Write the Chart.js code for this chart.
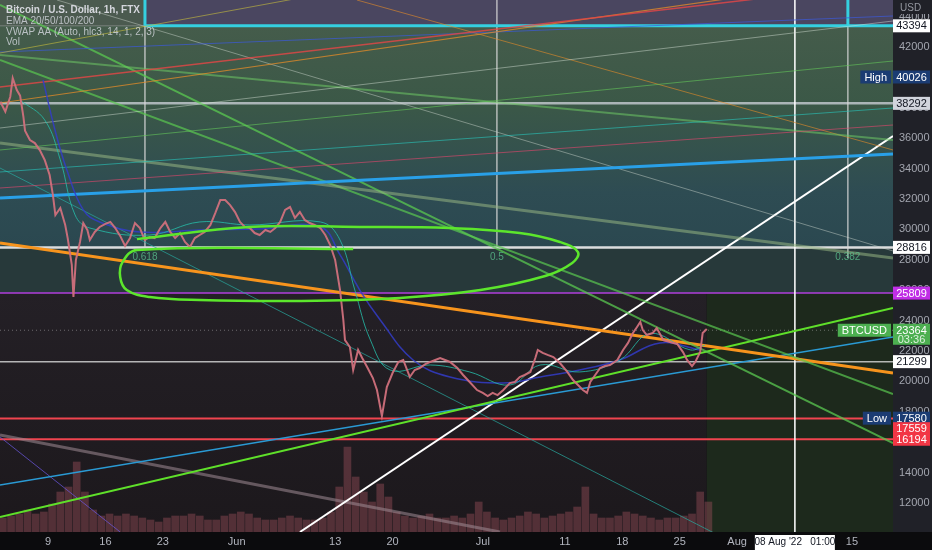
<!DOCTYPE html>
<html>
<head>
<meta charset="utf-8">
<script src="https://cdn.jsdelivr.net/npm/chart.js@4.4.0/dist/chart.umd.min.js"></script>
<style>
  html, body { margin: 0; background: #0b0b0d; }
  #wrap { width: 932px; height: 550px; }
</style>
</head>
<body>
<div id="wrap"><canvas id="chart" width="932" height="550"></canvas></div>
<script>
// x values are days counted so that May 9 = 9, Jun 1 = 32, Jul 1 = 62, Aug 1 = 93
const tickDays = [9, 16, 23, 32, 44, 51, 62, 72, 79, 86, 93, 107]
const tickLabels = ['9', '16', '23', 'Jun', '13', '20', 'Jul', '11', '18', '25', 'Aug', '15']
const priceTicks = [12000,14000,16000,18000,20000,22000,24000,26000,28000,30000,32000,34000,36000,38000,40000,42000,44000]

// BTCUSD 1h path
const priceDays = [3.2,3.8,4.4,4.7,5.2,5.6,6.0,6.2,6.8,7.4,8.0,8.6,9.2,9.6,9.9,10.5,11.1,11.4,11.9,12.1,
  12.4,12.9,13.3,13.8,14.1,14.7,15.3,16.0,16.6,17.2,17.8,18.4,19.0,19.6,20.2,20.8,21.4,22.0,22.7,23.3,
  23.9,24.5,25.1,25.7,26.3,26.9,27.5,28.1,28.8,29.4,30.0,30.6,31.2,31.8,32.4,33.0,33.6,34.2,34.8,35.5,
  36.1,36.7,37.3,37.9,38.5,39.1,39.7,40.3,40.9,41.5,42.2,42.8,43.4,44.0,44.6,45.0,45.2,45.8,46.2,46.8,
  47.3,47.9,48.6,49.1,49.7,50.3,51.0,51.7,52.3,53.1,53.7,54.3,55.0,55.6,56.2,56.8,57.4,58.0,58.9,59.6,
  60.4,61.3,62.0,62.6,63.2,63.8,64.5,65.3,65.9,66.5,67.1,67.8,68.4,68.7,69.3,69.9,70.6,71.4,72.3,73.0,
  73.6,74.2,74.7,75.1,75.7,76.3,76.9,77.5,78.4,79.1,79.7,80.3,80.8,81.2,81.5,82.0,82.7,83.2,83.6,84.0,
  84.8,85.7,86.4,86.9,87.5,87.9,88.5,88.8,89.3]
const priceClose = [38400,37750,38730,39950,39170,38800,37420,36500,35880,35680,35220,34570,33580,32260,30950,31410,30290,29430,27660,25550,
  27990,29170,30420,29960,29300,29830,30160,30360,30490,30090,29570,28910,29430,30420,30090,29300,29500,29430,30090,30490,
  29830,29430,29760,29170,28840,29430,29630,29830,30290,31080,31930,31930,31600,31140,30490,30160,30090,29760,29630,29960,
  29830,30090,30490,31280,31470,30750,31140,30620,30420,30290,30090,29630,28970,27990,26010,24040,22720,22260,20750,22070,
  21540,20950,20220,19430,17720,19630,20550,21280,21410,20290,20750,20880,21140,21280,21410,21540,21410,21280,20880,20420,
  19960,19430,19240,19040,19240,19100,19430,19890,19960,20290,20420,20620,21540,22070,21870,21740,21600,21210,20620,20090,
  19760,19430,19240,19960,20420,20880,21010,21080,21410,22070,22530,23180,23580,23910,23380,23050,23180,23510,23120,22720,
  22590,22460,21930,21410,21010,21280,21930,23180,23450]

// EMA lines (read, not computed)
const emaSlowDays = [8.4,9.85,11.3,13.3,15.3,20.2,27.5,34.8,42.2,44.6,47.0,49.5,53.5,58.0,64.5,69.0,73.8,78.7,83.6,88.5]
const emaSlow = [39830,36540,33910,31280,30490,29830,29960,30030,30160,28320,26010,24040,21410,20290,19900,20290,20750,21410,22530,22070]
const emaMidDays = [5.6,8.6,10.5,12.3,14.1,21.4,27.5,33.6,42.2,44.6,46.4,48.3,50.7,55.6,60.4,65.3,69.0,73.8,78.7,82.4,87.3,89.1]
const emaMid = [38510,37200,34570,30950,30090,29630,30490,30290,30490,29300,26010,22720,20750,21080,20620,19760,21080,20620,21410,23150,22070,22400]

// volume per day (thousands, read by eye)
const volDays = [3.5,4.5,5.5,6.5,7.5,8.5,9.5,10.5,11.5,12.5,13.5,14.5,15.5,16.5,17.5,18.5,19.5,20.5,21.5,22.5,
  23.5,24.5,25.5,26.5,27.5,28.5,29.5,30.5,31.5,32.5,33.5,34.5,35.5,36.5,37.5,38.5,39.5,40.5,41.5,42.5,
  43.5,44.5,45.5,46.5,47.5,48.5,49.5,50.5,51.5,52.5,53.5,54.5,55.5,56.5,57.5,58.5,59.5,60.5,61.5,62.5,
  63.5,64.5,65.5,66.5,67.5,68.5,69.5,70.5,71.5,72.5,73.5,74.5,75.5,76.5,77.5,78.5,79.5,80.5,81.5,82.5,
  83.5,84.5,85.5,86.5,87.5,88.5,89.5]
const volume = [14,16,18,22,18,20,28,40,45,70,40,22,16,18,16,18,16,14,12,10,
  14,16,16,18,16,12,12,16,18,20,18,14,12,12,14,16,14,12,12,14,
  20,45,85,55,40,30,48,35,20,16,14,16,18,14,14,16,14,18,30,20,
  14,12,14,16,20,18,14,16,18,20,25,45,18,14,14,16,20,18,16,14,
  12,14,14,16,18,40,30]

// horizontal levels
const levelPrices = [43394, 38292, 28816, 25809, 21299, 17559, 16194]
const lastPrice = 23364

// drawn trend lines [day1, price1, day2, price2]
const trendCoords = [
  [3.15, 39368, 112, 46210],
  [3.15, 38316, 112, 46737],
  [3.15, 41605, 112, 52395],
  [3.15, 41671, 112, 44039],
  [3.15, 36671, 112, 43710],
  [3.15, 35224, 112, 41079],
  [3.15, 33776, 112, 37987],
  [3.15, 32724, 112, 36868],
  [3.15, 32066, 112, 34960],
  [3.15, 41474, 112, 35881],
  [3.15, 35684, 112, 28118],
  [3.15, 44763, 112, 15947],
  [3.15, 41145, 112, 19171],
  [10.1, 45092, 112, 28579],
  [46.66, 45092, 112, 35224],
  [3.15, 29105, 112, 20552],
  [3.15, 11079, 112, 24829],
  [3.15, 13184, 112, 22921],
  [39.71, 10091, 112, 36145],
  [3.15, 34039, 90.9, 9829],
  [3.15, 16473, 64.1, 10091],
  [3.15, 16342, 17.8, 10091],
  // fib box + verticals
  [20.82, 43394, 112, 43394],
  [20.82, 43394, 20.82, 46000],
  [106.5, 43394, 106.5, 46000],
  [20.82, 43394, 20.82, 28816],
  [63.72, 46000, 63.72, 28816],
  [106.5, 43394, 106.5, 28118],
  [100.04, 46000, 100.04, 9000]
]
const trendStyle = [
  ['rgba(230,70,70,0.8)', 1.5],
  ['rgba(230,140,40,0.75)', 1.2],
  ['rgba(200,190,60,0.6)', 1],
  ['rgba(60,90,220,0.7)', 1.2],
  ['rgba(220,230,220,0.45)', 1.2],
  ['rgba(100,200,90,0.6)', 1.2],
  ['rgba(40,200,190,0.6)', 1.2],
  ['rgba(230,70,110,0.6)', 1.2],
  ['#29a0e8', 3],
  ['rgba(110,200,100,0.55)', 2],
  ['rgba(150,180,130,0.55)', 3],
  ['rgba(90,200,80,0.75)', 2],
  ['rgba(90,200,80,0.7)', 2],
  ['rgba(210,220,210,0.45)', 1],
  ['rgba(230,140,40,0.6)', 1],
  ['#f7941d', 3],
  ['#5fe02a', 2],
  ['#2a9ad4', 1.6],
  ['#ffffff', 2],
  ['rgba(40,170,160,0.7)', 1],
  ['rgba(160,140,150,0.55)', 3],
  ['rgba(110,90,230,0.7)', 1],
  ['#35d0e0', 3],
  ['#35d0e0', 3],
  ['#35d0e0', 3],
  ['rgba(220,220,220,0.5)', 1],
  ['rgba(220,220,220,0.5)', 1],
  ['rgba(220,220,220,0.5)', 1],
  ['rgba(255,255,255,0.8)', 1]
]
const levelStyle = [
  ['rgba(200,200,200,0.45)', 1],
  ['rgba(210,212,220,0.75)', 2.5],
  ['rgba(240,240,240,0.9)', 2.5],
  ['#b23fdc', 1.5],
  ['rgba(220,220,220,0.8)', 1.5],
  ['#f0444f', 2],
  ['#f0444f', 2]
]

// hand drawn ellipse
const loopDays = [46.2, 19.85, 18.1, 17.8, 18.6, 21.4, 27.5, 39.7, 51.9, 61.7, 69.6, 72.9, 73.6, 71.4, 66.5, 58.0, 47.0, 33.6, 19.85]
const loopPrices = [28710, 28650, 27860, 26870, 26010, 25550, 25350, 25290, 25490, 26010, 26930, 27790, 28510, 29170, 29760, 30090, 30160, 30160, 29360]

// fib labels
const fibDays = [20.82, 63.72, 106.5]
const fibPrice = 28184
const fibText = ['0.618', '0.5', '0.382']

// axis tags
const tagPrices = [43394, 40026, 38292, 28816, 25809, 23364, 21299, 17580, 17559, 16194]
const tagColors = [['#ffffff','#131722'],['#1b3c73','#ffffff'],['#d1d4dc','#131722'],['#ffffff','#131722'],['#c02ee6','#ffffff'],
  ['#4caf50','#ffffff'],['#ffffff','#131722'],['#1b3c73','#ffffff'],['#f23645','#ffffff'],['#f23645','#ffffff']]
const tagSide = {40026: 'High', 23364: 'BTCUSD', 17580: 'Low'}

const FONT = "'Liberation Sans', 'DejaVu Sans', sans-serif"
const pts = (xs, ys) => xs.map((v, i) => ({x: v, y: ys[i]}))

const datasets = []
datasets.push({data: pts(priceDays, priceClose), borderColor: 'rgba(208,112,124,0.95)', borderWidth: 2, order: 5})
datasets.push({data: pts(emaMidDays, emaMid), borderColor: 'rgba(38,190,170,0.8)', borderWidth: 1, tension: 0.4, order: 6})
datasets.push({data: pts(emaSlowDays, emaSlow), borderColor: 'rgba(50,60,200,0.85)', borderWidth: 1.5, tension: 0.4, order: 6})
datasets.push({data: pts(loopDays, loopPrices), borderColor: '#5ce62c', borderWidth: 2.5, tension: 0.4, order: 4})
trendCoords.forEach((t, i) => {
  datasets.push({data: [{x: t[0], y: t[1]}, {x: t[2], y: t[3]}], borderColor: trendStyle[i][0], borderWidth: trendStyle[i][1], order: 8})
})
levelPrices.forEach((p, i) => {
  datasets.push({data: [{x: 3.15, y: p}, {x: 112, y: p}], borderColor: levelStyle[i][0], borderWidth: levelStyle[i][1], order: 9})
})
datasets.push({data: [{x: 3.15, y: lastPrice}, {x: 112, y: lastPrice}], borderColor: 'rgba(200,200,200,0.45)', borderWidth: 1, borderDash: [1, 3], order: 9})
datasets.push({type: 'bar', data: pts(volDays, volume), yAxisID: 'yVol', backgroundColor: 'rgba(150,78,88,0.45)', barThickness: 7, order: 20})

const noPad = s => { s.paddingTop = 0; s.paddingBottom = 0; s.paddingLeft = 0; s.paddingRight = 0 }

const bgPlugin = {
  id: 'bg',
  beforeDraw(chart) {
    const {ctx, chartArea: a, scales: {x, y}} = chart
    const py = v => y.getPixelForValue(v)
    const px = v => x.getPixelForValue(v)
    ctx.save()
    ctx.fillStyle = '#0b0b0d'
    ctx.fillRect(0, 0, chart.width, chart.height)
    ctx.fillStyle = '#202128'
    ctx.fillRect(a.right, 0, chart.width - a.right, a.bottom)
    const yTop = py(43394), yMid = py(28816), yLow = py(25809)
    const xBox = px(20.82), xLast = px(89.3)
    ctx.fillStyle = '#4b5a4f'
    ctx.fillRect(a.left, a.top, xBox - a.left, yTop - a.top)
    ctx.fillStyle = '#4a4660'
    ctx.fillRect(xBox, a.top, a.right - xBox, yTop - a.top)
    let g = ctx.createLinearGradient(0, yTop, 0, yMid)
    g.addColorStop(0, '#455c4b')
    g.addColorStop(0.35, '#3b5847')
    g.addColorStop(0.75, '#2e4c53')
    g.addColorStop(1, '#2b4850')
    ctx.fillStyle = g
    ctx.fillRect(a.left, yTop, a.right - a.left, yMid - yTop)
    ctx.fillStyle = '#27393a'
    ctx.fillRect(a.left, yMid, a.right - a.left, yLow - yMid)
    g = ctx.createLinearGradient(0, yLow, 0, a.bottom)
    g.addColorStop(0, '#242026')
    g.addColorStop(1, '#1c181c')
    ctx.fillStyle = g
    ctx.fillRect(a.left, yLow, xLast - a.left, a.bottom - yLow)
    ctx.fillStyle = '#1d291c'
    ctx.fillRect(xLast, yLow, a.right - xLast, a.bottom - yLow)
    ctx.restore()
  },
  afterDraw(chart) {
    const {ctx, chartArea: a, scales: {x, y}} = chart
    const py = v => y.getPixelForValue(v)
    const px = v => x.getPixelForValue(v)
    ctx.save()
    // header
    ctx.textBaseline = 'middle'
    ctx.textAlign = 'left'
    ctx.fillStyle = '#d4d6dc'
    ctx.font = 'bold 10px ' + FONT
    ctx.fillText('Bitcoin / U.S. Dollar, 1h, FTX', 6, 10)
    ctx.font = '10px ' + FONT
    ctx.fillStyle = 'rgba(215,218,225,0.8)'
    ctx.fillText('EMA 20/50/100/200', 6, 21)
    ctx.fillText('VWAP AA (Auto, hlc3, 14, 1, 2, 3)', 6, 32)
    ctx.fillText('Vol', 6, 42)
    // fib labels
    ctx.textAlign = 'center'
    ctx.font = '10px ' + FONT
    ctx.fillStyle = 'rgba(90,190,140,0.8)'
    fibDays.forEach((d, i) => ctx.fillText(fibText[i], px(d), py(fibPrice)))
    // USD
    ctx.textAlign = 'left'
    ctx.fillStyle = '#202128'
    ctx.fillRect(a.right, 0, chart.width - a.right, 14)
    ctx.fillStyle = '#9598a1'
    ctx.fillText('USD', a.right + 7, 8)
    // tags with simple collision push
    const order = tagPrices.map((p, i) => i).sort((i, j) => tagPrices[j] - tagPrices[i])
    let prevY = -100
    ctx.font = '11px ' + FONT
    order.forEach(i => {
      const p = tagPrices[i]
      let yc = Math.max(py(p), prevY + 10.5)
      const two = p === lastPrice
      const h = two ? 21 : 13
      const top = yc - 6.5
      ctx.fillStyle = tagColors[i][0]
      ctx.fillRect(a.right, top, 37, h)
      ctx.fillStyle = tagColors[i][1]
      ctx.textAlign = 'center'
      ctx.fillText(String(p), a.right + 18.5, yc + 0.5)
      if (two) {
        ctx.fillStyle = 'rgba(255,255,255,0.8)'
        ctx.fillText('03:36', a.right + 18.5, yc + 10)
      }
      if (tagSide[p]) {
        const t = tagSide[p]
        const w = ctx.measureText(t).width + 8
        ctx.fillStyle = tagColors[i][0]
        ctx.fillRect(a.right - w - 2, top, w, 13)
        ctx.fillStyle = tagColors[i][1]
        ctx.fillText(t, a.right - w / 2 - 2, yc + 0.5)
      }
      prevY = two ? yc + 10 : yc
    })
    // crosshair date
    const xd = px(100.04)
    ctx.fillStyle = '#ffffff'
    ctx.fillRect(xd - 40, a.bottom + 3, 80, 15)
    ctx.fillStyle = '#131722'
    ctx.font = '10px ' + FONT
    ctx.textAlign = 'center'
    ctx.fillText("08 Aug '22   01:00", xd, a.bottom + 10.5)
    ctx.restore()
  }
}

new Chart(document.getElementById('chart'), {
  type: 'line',
  data: {datasets: datasets},
  options: {
    responsive: false,
    animation: false,
    layout: {padding: 0, autoPadding: false},
    elements: {point: {radius: 0}, line: {tension: 0}},
    plugins: {legend: {display: false}, tooltip: {enabled: false}},
    scales: {
      x: {
        type: 'linear', min: 3.15, max: 112, offset: false,
        grid: {display: false, drawTicks: false}, border: {display: false},
        afterBuildTicks: s => { s.ticks = tickDays.map(v => ({value: v})) },
        afterFit: s => { s.height = 18; noPad(s) },
        ticks: {autoSkip: false, maxRotation: 0, padding: 3, color: '#b2b5be', font: {size: 11, family: FONT},
          callback: (v, i) => tickLabels[i]}
      },
      y: {
        type: 'linear', position: 'right', min: 10091, max: 45092,
        grid: {display: false, drawTicks: false}, border: {display: false},
        afterBuildTicks: s => { s.ticks = priceTicks.map(v => ({value: v})) },
        afterFit: s => { s.width = 39; noPad(s) },
        ticks: {autoSkip: false, padding: 6, color: '#a3a6af', font: {size: 11, family: FONT},
          callback: (v, i) => String(priceTicks[i])}
      },
      yVol: {type: 'linear', display: false, min: 0, max: 532}
    }
  },
  plugins: [bgPlugin]
})
</script>
</body>
</html>
